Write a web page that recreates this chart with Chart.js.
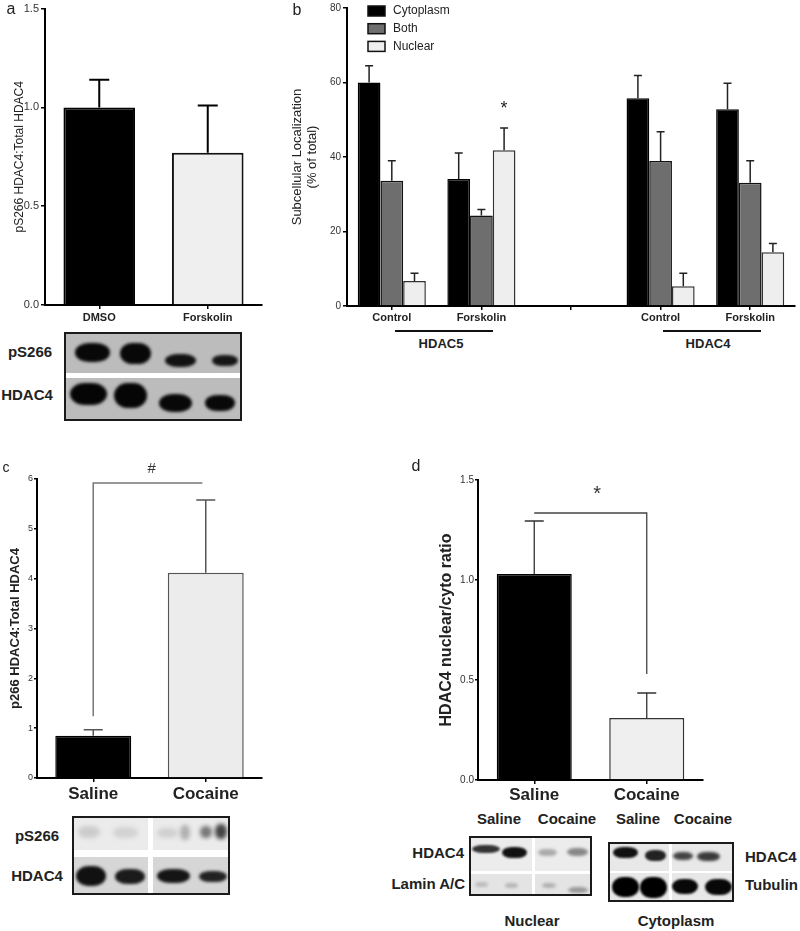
<!DOCTYPE html>
<html><head><meta charset="utf-8">
<script src="https://cdn.jsdelivr.net/npm/chart.js@4.4.1/dist/chart.umd.min.js"></script>
<style>
html,body{margin:0;padding:0;background:#fff;}
body{width:800px;height:931px;position:relative;overflow:hidden;font-family:"Liberation Sans",Arial,Helvetica,sans-serif;color:#222;}
.box{position:absolute;}
canvas{display:block;}
.t{position:absolute;white-space:nowrap;line-height:1.15;}
.blot{position:absolute;box-sizing:border-box;border:2px solid #1a1a1a;overflow:hidden;}
.part{position:absolute;}
.hl{position:absolute;background:#111;}
</style></head><body>
<div class="box" style="left:0;top:0;width:270px;height:330px"><canvas id="ca"></canvas></div>
<div class="box" style="left:270px;top:0;width:530px;height:330px"><canvas id="cb"></canvas></div>
<div class="box" style="left:0;top:440px;width:290px;height:370px"><canvas id="cc"></canvas></div>
<div class="box" style="left:400px;top:440px;width:330px;height:370px"><canvas id="cd"></canvas></div>
<div id="overlay"></div>
<script>
// ---------------- DATA ----------------
const categoriesA = ['DMSO', 'Forskolin'];
const valuesA = [1.00, 0.77];
const errorsA = [0.14, 0.24];
const yTicksA = [0, 0.5, 1.0, 1.5];

const categoriesB = ['Control', 'Forskolin', '', 'Control', 'Forskolin'];
const seriesNamesB = ['Cytoplasm', 'Both', 'Nuclear'];
const cytoplasmB = [60.0, 34.1, null, 55.8, 52.8];
const cytoplasmErrB = [4.5, 7.0, null, 6.1, 7.0];
const bothB = [33.6, 24.3, null, 38.9, 33.1];
const bothErrB = [5.4, 1.6, null, 7.9, 5.9];
const nuclearB = [6.7, 41.8, null, 5.3, 14.4];
const nuclearErrB = [2.1, 6.0, null, 3.5, 2.4];
const yTicksB = [0, 20, 40, 60, 80];
const groupLabelsB = ['HDAC5', 'HDAC4'];

const categoriesC = ['Saline', 'Cocaine'];
const valuesC = [0.85, 4.12];
const errorsC = [0.12, 1.46];
const yTicksC = [0, 1, 2, 3, 4, 5, 6];
const bracketC = [[0, 1.24], [0, 5.92], [0.97, 5.92]];

const categoriesD = ['Saline', 'Cocaine'];
const valuesD = [1.03, 0.31];
const errorsD = [0.265, 0.125];
const yTicksD = [0, 0.5, 1.0, 1.5];
const bracketD = [[0, 1.335], [1, 1.335], [1, 0.53]];

// ---------------- HELPERS ----------------
Chart.defaults.font.family = '"Liberation Sans", Arial, Helvetica, sans-serif';
Chart.defaults.color = '#222';

function errorPlugin(cap, color, width) {
  return {
    id: 'errorBars',
    afterDatasetsDraw(chart) {
      const ctx = chart.ctx;
      chart.data.datasets.forEach((ds, i) => {
        if (!ds.errors) return;
        const meta = chart.getDatasetMeta(i);
        const ys = chart.scales[meta.yAxisID];
        meta.data.forEach((bar, j) => {
          const v = ds.data[j], e = ds.errors[j];
          if (v == null || e == null) return;
          const yTop = ys.getPixelForValue(v + e);
          ctx.save();
          ctx.strokeStyle = color; ctx.lineWidth = width;
          ctx.beginPath();
          ctx.moveTo(bar.x, bar.y); ctx.lineTo(bar.x, yTop);
          ctx.moveTo(bar.x - cap / 2, yTop); ctx.lineTo(bar.x + cap / 2, yTop);
          ctx.stroke();
          ctx.restore();
        });
      });
    }
  };
}

function annotPlugin(paths, marks) {
  return {
    id: 'annot',
    afterDraw(chart) {
      const ctx = chart.ctx, xs = chart.scales.x, ys = chart.scales.y;
      const px = v => {
        const i = Math.floor(v), f = v - i;
        const a = xs.getPixelForValue(i);
        if (f === 0) return a;
        const b = xs.getPixelForValue(i + 1);
        return a + (b - a) * f;
      };
      paths.forEach(p => {
        ctx.save(); ctx.strokeStyle = p.color; ctx.lineWidth = p.width;
        ctx.beginPath();
        p.points.forEach((pt, k) => {
          const X = px(pt[0]), Y = ys.getPixelForValue(pt[1]);
          if (k) ctx.lineTo(X, Y); else ctx.moveTo(X, Y);
        });
        ctx.stroke(); ctx.restore();
      });
      marks.forEach(m => {
        const X = m.dataset != null ? chart.getDatasetMeta(m.dataset).data[m.index].x : px(m.x);
        const Y = ys.getPixelForValue(m.y);
        ctx.save(); ctx.fillStyle = m.color; ctx.font = m.font;
        ctx.textAlign = 'center'; ctx.textBaseline = 'middle';
        ctx.fillText(m.text, X, Y); ctx.restore();
      });
    }
  };
}

function legendPlugin(x0, y0, step, bw, bh, textX) {
  return {
    id: 'inLegend',
    afterDraw(chart) {
      const ctx = chart.ctx;
      chart.data.datasets.forEach((ds, i) => {
        const y = y0 + i * step;
        ctx.save();
        ctx.fillStyle = ds.backgroundColor; ctx.fillRect(x0, y, bw, bh);
        ctx.strokeStyle = '#111'; ctx.lineWidth = 1.5; ctx.strokeRect(x0, y, bw, bh);
        ctx.fillStyle = '#222'; ctx.font = '12px "Liberation Sans", Arial, sans-serif';
        ctx.textAlign = 'left'; ctx.textBaseline = 'middle';
        ctx.fillText(ds.label, textX, y + bh / 2);
        ctx.restore();
      });
    }
  };
}

function makeOptions(c) {
  return {
    responsive: true, maintainAspectRatio: false, animation: false,
    layout: { padding: { top: c.padTop, right: c.padRight, left: 0, bottom: 0 } },
    plugins: { legend: { display: false }, tooltip: { enabled: false } },
    scales: {
      x: {
        offset: true,
        grid: { display: true, drawOnChartArea: false, drawTicks: true, tickLength: 4, offset: false, color: '#000', lineWidth: 1.5 },
        border: { display: true, color: '#000', width: 2 },
        ticks: { color: '#222', font: c.xFont, padding: c.xPad, autoSkip: false, maxRotation: 0, minRotation: 0 },
        afterFit: s => { s.height = c.xH; }
      },
      y: {
        min: c.yMin, max: c.yMax,
        afterBuildTicks: s => { s.ticks = c.yTicks.map(v => ({ value: v })); },
        grid: { display: true, drawOnChartArea: false, drawTicks: true, tickLength: c.yTickLen, color: '#000', lineWidth: 1.5 },
        border: { display: true, color: '#000', width: 2 },
        ticks: { color: '#333', font: c.yFont, padding: c.yPad, callback: c.yFmt },
        title: { display: true, text: c.title, color: '#222', font: c.titleFont, padding: { top: c.titlePad, bottom: 0 } },
        afterFit: s => { s.width = c.yW; }
      }
    }
  };
}

// ---------------- PANEL A ----------------
new Chart(document.getElementById('ca'), {
  type: 'bar',
  data: { labels: categoriesA, datasets: [{
    data: valuesA, errors: errorsA,
    backgroundColor: ['#000000', '#efefef'], borderColor: ['#000000', '#111111'], borderWidth: 2,
    categoryPercentage: 1, barPercentage: 0.66
  }] },
  options: makeOptions({ padTop: 7, padRight: 8, xH: 25, yW: 45, yMin: 0, yMax: 1.5, yTicks: yTicksA,
    xFont: { size: 11, weight: 'bold' }, xPad: 2, yFont: { size: 11 }, yPad: 2, yTickLen: 4,
    yFmt: v => Number(v).toFixed(1), title: 'pS266 HDAC4:Total HDAC4', titleFont: { size: 12 }, titlePad: 12 }),
  plugins: [errorPlugin(20, '#000', 2)]
});

// ---------------- PANEL B ----------------
new Chart(document.getElementById('cb'), {
  type: 'bar',
  data: { labels: categoriesB, datasets: [
    { label: seriesNamesB[0], data: cytoplasmB, errors: cytoplasmErrB, backgroundColor: '#000000', borderColor: '#000000', borderWidth: 1.5, categoryPercentage: 0.76, barPercentage: 1 },
    { label: seriesNamesB[1], data: bothB, errors: bothErrB, backgroundColor: '#6e6e6e', borderColor: '#111111', borderWidth: 1.5, categoryPercentage: 0.76, barPercentage: 1 },
    { label: seriesNamesB[2], data: nuclearB, errors: nuclearErrB, backgroundColor: '#eeeeee', borderColor: '#333333', borderWidth: 1.5, categoryPercentage: 0.76, barPercentage: 1 }
  ] },
  options: makeOptions({ padTop: 6, padRight: 5, xH: 24, yW: 77, yMin: 0, yMax: 80, yTicks: yTicksB,
    xFont: { size: 11, weight: 'bold' }, xPad: 1, yFont: { size: 10 }, yPad: 2, yTickLen: 4,
    yFmt: v => String(v), title: ['Subcellular Localization', '(% of total)'], titleFont: { size: 13, lineHeight: 1.15 }, titlePad: 19.5 }),
  plugins: [errorPlugin(8, '#222', 1.5), legendPlugin(98, 6, 17.7, 17, 10, 123),
    annotPlugin([], [{ dataset: 2, index: 1, y: 53, text: '*', font: '18px "Liberation Sans", Arial', color: '#222' }])]
});

// ---------------- PANEL C ----------------
new Chart(document.getElementById('cc'), {
  type: 'bar',
  data: { labels: categoriesC, datasets: [{
    data: valuesC, errors: errorsC,
    backgroundColor: ['#000000', '#ececec'], borderColor: ['#000000', '#555555'], borderWidth: 1.5,
    categoryPercentage: 1, barPercentage: 0.675
  }] },
  options: makeOptions({ padTop: 39, padRight: 28, xH: 32, yW: 37, yMin: 0, yMax: 6, yTicks: yTicksC,
    xFont: { size: 17, weight: 'bold' }, xPad: 2, yFont: { size: 9 }, yPad: 1, yTickLen: 3,
    yFmt: v => String(v), title: 'p266 HDAC4:Total HDAC4', titleFont: { size: 13, weight: 'bold' }, titlePad: 8 }),
  plugins: [errorPlugin(19, '#555', 1.5),
    annotPlugin([{ points: bracketC, color: '#777', width: 1.5 }],
      [{ x: 0.52, y: 6.2, text: '#', font: '15px "Liberation Sans", Arial', color: '#333' }])]
});

// ---------------- PANEL D ----------------
new Chart(document.getElementById('cd'), {
  type: 'bar',
  data: { labels: categoriesD, datasets: [{
    data: valuesD, errors: errorsD,
    backgroundColor: ['#000000', '#efefef'], borderColor: ['#000000', '#333333'], borderWidth: 1.5,
    categoryPercentage: 1, barPercentage: 0.667
  }] },
  options: makeOptions({ padTop: 40, padRight: 27, xH: 30, yW: 78, yMin: 0, yMax: 1.5, yTicks: yTicksD,
    xFont: { size: 17, weight: 'bold' }, xPad: 1, yFont: { size: 10 }, yPad: 1, yTickLen: 3,
    yFmt: v => Number(v).toFixed(1), title: 'HDAC4 nuclear/cyto ratio', titleFont: { size: 16, weight: 'bold' }, titlePad: 37 }),
  plugins: [errorPlugin(19, '#333', 1.3),
    annotPlugin([{ points: bracketD, color: '#444', width: 1.3 }],
      [{ x: 0.56, y: 1.43, text: '*', font: '20px "Liberation Sans", Arial', color: '#333' }])]
});

// ---------------- OVERLAY TEXT & BLOTS ----------------
const ov = document.getElementById('overlay');
function T(text, x, y, size, weight, align) {
  const d = document.createElement('div');
  d.className = 't';
  d.textContent = text;
  d.style.left = x + 'px'; d.style.top = y + 'px';
  d.style.fontSize = size + 'px'; d.style.fontWeight = weight || 'normal';
  const tx = align === 'right' ? '-100%' : (align === 'left' ? '0' : '-50%');
  d.style.transform = 'translate(' + tx + ',-50%)';
  ov.appendChild(d);
}
function H(x1, x2, y, h) {
  const d = document.createElement('div'); d.className = 'hl';
  d.style.left = x1 + 'px'; d.style.top = y + 'px'; d.style.width = (x2 - x1) + 'px'; d.style.height = h + 'px';
  ov.appendChild(d);
}
function blot(x1, y1, x2, y2, bg, parts) {
  const b = document.createElement('div'); b.className = 'blot';
  b.style.left = x1 + 'px'; b.style.top = y1 + 'px';
  b.style.width = (x2 - x1) + 'px'; b.style.height = (y2 - y1) + 'px';
  b.style.background = bg;
  parts.forEach(p => {
    const [a, c, e, f, col, blur, rad] = p;
    const d = document.createElement('div'); d.className = 'part';
    d.style.left = (a - x1 - 2) + 'px'; d.style.top = (c - y1 - 2) + 'px';
    d.style.width = (e - a) + 'px'; d.style.height = (f - c) + 'px';
    d.style.background = col;
    d.style.borderRadius = rad != null ? rad : '40% / 50%';
    if (blur) d.style.filter = 'blur(' + blur + 'px)';
    b.appendChild(d);
  });
  ov.appendChild(b);
}

// panel letters
T('a', 11, 9, 16); T('b', 297, 10, 16); T('c', 6, 467, 14); T('d', 416, 466, 16);

// panel b group labels
H(395, 493, 330, 2); H(663, 761, 330, 2);
T(groupLabelsB[0], 441, 344, 13, 'bold'); T(groupLabelsB[1], 708, 344, 13, 'bold');

// panel a blot
T('pS266', 30, 352, 15, 'bold'); T('HDAC4', 27, 395, 15, 'bold');
blot(64, 332, 242, 421, '#bcbcbc', [
  [66, 373, 240, 378, '#ffffff', 0, '0'],
  [75, 343, 110, 362, '#080808', 1.5], [120, 343, 151, 364, '#080808', 1.5],
  [165, 354, 196, 367, '#111111', 1.5], [212, 355, 238, 366, '#151515', 1.5],
  [70, 383, 107, 405, '#050505', 1.5], [114, 383, 147, 408, '#050505', 1.5],
  [159, 394, 192, 412, '#080808', 1.5], [205, 395, 235, 411, '#080808', 1.5]
]);

// panel c blot
T('pS266', 37, 836, 15, 'bold'); T('HDAC4', 37, 876, 15, 'bold');
blot(72, 816, 230, 895, '#ebebeb', [
  [74, 857, 228, 893, '#d6d6d6', 0, '0'],
  [74, 850, 228, 857, '#ffffff', 0, '0'], [148, 818, 153, 893, '#ffffff', 0, '0'],
  [78, 826, 100, 838, '#cccccc', 2], [113, 827, 138, 838, '#d2d2d2', 2], [157, 828, 178, 838, '#d0d0d0', 2],
  [180, 825, 190, 840, '#b0b0b0', 2], [200, 826, 212, 838, '#777777', 2], [215, 824, 227, 839, '#444444', 2],
  [76, 866, 106, 886, '#111111', 1.5], [115, 869, 145, 884, '#1a1a1a', 1.5],
  [157, 869, 190, 883, '#151515', 1.5], [199, 871, 227, 882, '#222222', 1.5]
]);

// panel d blots
T('Saline', 499, 819, 15, 'bold'); T('Cocaine', 567, 819, 15, 'bold');
T('Saline', 638, 819, 15, 'bold'); T('Cocaine', 703, 819, 15, 'bold');
T('HDAC4', 464, 853, 15, 'bold', 'right'); T('Lamin A/C', 465, 884, 15, 'bold', 'right');
T('HDAC4', 745, 857, 15, 'bold', 'left'); T('Tubulin', 745, 885, 15, 'bold', 'left');
T('Nuclear', 532, 921, 15, 'bold'); T('Cytoplasm', 676, 921, 15, 'bold');
blot(469, 836, 592, 896, '#ececec', [
  [471, 874, 590, 894, '#e4e4e4', 0, '0'],
  [471, 871, 590, 874, '#ffffff', 0, '0'], [532, 838, 535, 894, '#ffffff', 0, '0'],
  [472, 845, 500, 853, '#333333', 1.2], [502, 847, 527, 858, '#111111', 1.2],
  [538, 849, 557, 856, '#aaaaaa', 1.5], [567, 848, 588, 856, '#888888', 1.5],
  [475, 882, 488, 887, '#bbbbbb', 1.5], [505, 883, 518, 888, '#b5b5b5', 1.5],
  [542, 883, 556, 888, '#b0b0b0', 1.5], [568, 887, 588, 893, '#999999', 1.5]
]);
blot(608, 842, 734, 902, '#e8e8e8', [
  [610, 871, 732, 873, '#ffffff', 0, '0'], [669, 844, 672, 900, '#ffffff', 0, '0'],
  [613, 847, 638, 858, '#111111', 1.2], [645, 850, 666, 861, '#222222', 1.2],
  [673, 852, 693, 860, '#444444', 1.5], [697, 852, 720, 861, '#3a3a3a', 1.5],
  [612, 877, 639, 897, '#000000', 1.2], [640, 877, 667, 898, '#000000', 1.2],
  [672, 879, 698, 894, '#080808', 1.2], [705, 879, 732, 895, '#080808', 1.2]
]);
</script>
</body></html>
